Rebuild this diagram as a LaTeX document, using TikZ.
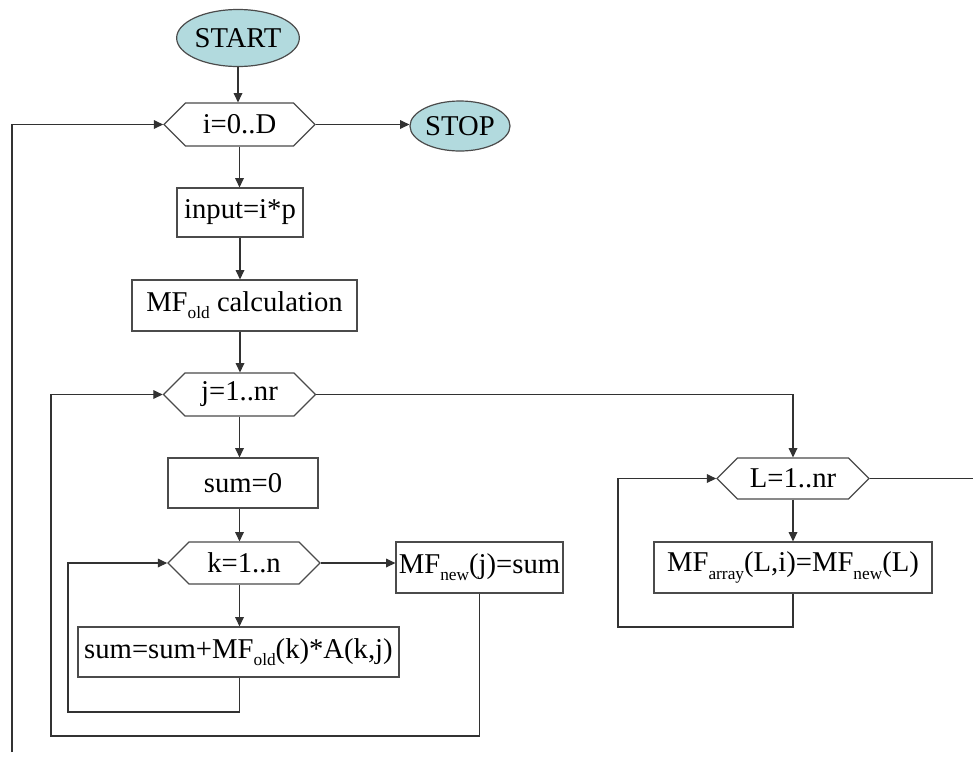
\documentclass[tikz,border=0pt]{standalone}
\usepackage{fontspec}
\setmainfont{Liberation Serif}
\usetikzlibrary{shapes.geometric,shapes.symbols,arrows.meta}
\definecolor{termfill}{RGB}{178,218,222}
\definecolor{linegray}{RGB}{50,50,50}
\definecolor{bordgray}{RGB}{75,75,75}
\newcommand{\lowsub}[1]{\raisebox{-0.55ex}{\fontsize{13}{14}\selectfont #1}}
\begin{document}
\begin{tikzpicture}[x=0.75pt,y=-0.75pt,
  every node/.style={font=\fontsize{21.5}{25}\selectfont, inner sep=0pt},
  box/.style={draw=bordgray, line width=0.9pt, rectangle},
  term/.style={ellipse, draw=bordgray, line width=0.9pt, fill=termfill},
  hexa/.style={signal, signal to=west and east, signal pointer angle=90, draw=bordgray, line width=0.9pt},
  conn/.style={draw=linegray, line width=0.9pt, -{Triangle[length=7pt,width=6.5pt]}},
  plainline/.style={draw=linegray, line width=0.9pt}]
\useasboundingbox (0,0) rectangle (973,758);
\fill[white] (0,0) rectangle (973,758);

\node[term, minimum width=73.5pt, minimum height=42.75pt] (start) at (238,38) {START};
\node[term, minimum width=75pt, minimum height=37.5pt] (stop) at (460,126) {STOP};
\node[hexa, minimum width=113.25pt, minimum height=32.25pt] (ihex) at (239.5,124.5) {i=0..D};
\node[box, minimum width=94.5pt, minimum height=36.75pt] (input) at (240,212.5) {input=i*p};
\node[box, minimum width=168.75pt, minimum height=38.25pt] (mfold) at (244.5,305.5) {MF\lowsub{old} calculation};
\node[hexa, minimum width=114pt, minimum height=32.25pt] (jhex) at (239.5,394.5) {j=1..nr};
\node[box, minimum width=112.5pt, minimum height=37.5pt] (sum0) at (243,483) {sum=0};
\node[hexa, minimum width=114pt, minimum height=31.5pt] (khex) at (244,563) {k=1..n};
\node[box, minimum width=240.75pt, minimum height=37.5pt] (sumsum) at (238.5,652) {sum=sum+MF\lowsub{old}(k)*A(k,j)};
\node[box, minimum width=125.25pt, minimum height=38.25pt] (mfnew) at (479.5,567.5) {MF\lowsub{new}(j)=sum};
\node[hexa, minimum width=114pt, minimum height=30.75pt] (lhex) at (793,478.5) {L=1..nr};
\node[box, minimum width=208.5pt, minimum height=38.25pt] (mfarr) at (793,567.5) {MF\lowsub{array}(L,i)=MF\lowsub{new}(L)};

\coordinate (iret) at (12,752);
\coordinate (jb) at (51,736);
\coordinate (kb) at (68,712);
\coordinate (lb) at (618,627);
\coordinate (lout) at (973,478.5);

\draw[conn] (start.south) -- (start.south |- ihex.north);
\draw[conn] (ihex.east) -- (ihex.east -| stop.west);
\draw[conn] (iret) |- (ihex.west);
\draw[conn] (ihex.south) -- (ihex.south |- input.north);
\draw[conn] (input.south) -- (input.south |- mfold.north);
\draw[conn] (mfold.south -| input.south) -- (input.south |- jhex.north);
\draw[conn] (jhex.south) -- (jhex.south |- sum0.north);
\draw[conn] (sum0.south -| jhex.south) -- (jhex.south |- khex.north);
\draw[conn] (khex.south -| jhex.south) -- (jhex.south |- sumsum.north);
\draw[conn] (khex.east) -- (khex.east -| mfnew.west);
\draw[conn] (sumsum.south -| jhex.south) |- (kb) |- (khex.west);
\draw[conn] (mfnew.south) |- (jb) |- (jhex.west);
\draw[conn] (jhex.east) -| (lhex.north);
\draw[conn] (lhex.south) -- (mfarr.north);
\draw[conn] (mfarr.south) |- (lb) |- (lhex.west);
\draw[plainline] (lhex.east) -- (lout);
\end{tikzpicture}
\end{document}
